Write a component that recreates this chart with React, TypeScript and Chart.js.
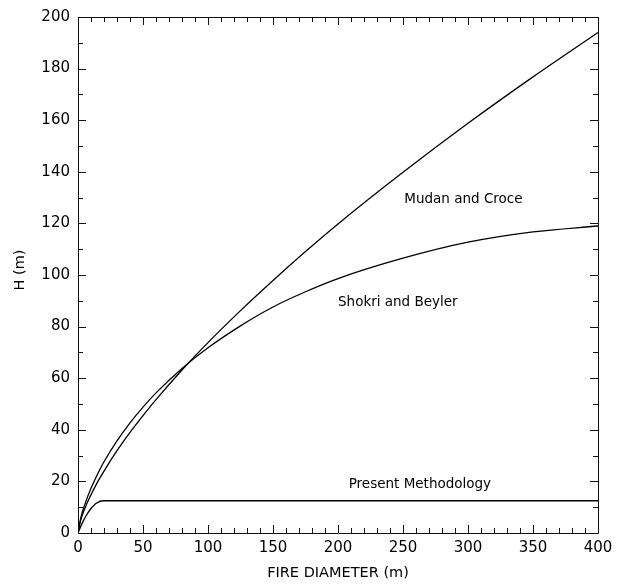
import React, { useEffect, useRef } from "react";
import { Chart, registerables } from "chart.js";

Chart.register(...registerables);

// Fire diameter (m) sample points
const diameters = [0, 2, 5, 10, 15, 20, 30, 40, 50, 60, 80, 100, 125, 150, 175, 200, 250, 300, 350, 400];
// Flame height H (m)
const mudanCroce = [0, 4.8, 9.2, 14.8, 19.7, 24.0, 31.9, 39.0, 45.5, 51.7, 63.2, 73.8, 86.2, 97.9, 109.1, 119.8, 139.8, 158.8, 176.8, 194.0];
const shokriBeyler = [0, 5.6, 10.7, 17.3, 22.8, 27.6, 35.7, 42.7, 48.8, 54.3, 63.8, 71.8, 80.3, 87.6, 93.5, 98.6, 106.5, 112.7, 116.7, 119.0];

const presentDiameters = [0, 2, 4, 6, 8, 10, 12, 14, 16, 18, 20, 25, 50, 100, 200, 300, 400];
const presentMethodology = [0, 2.4, 4.6, 6.5, 8.1, 9.5, 10.6, 11.5, 12.1, 12.4, 12.5, 12.5, 12.5, 12.5, 12.5, 12.5, 12.5];

const curveLabels = ["Mudan and Croce", "Shokri and Beyler", "Present Methodology"];
const xTitle = "FIRE DIAMETER (m)";
const yTitle = "H (m)";

const FONT = "'DejaVu Sans', sans-serif";

const toPoints = (xs: number[], ys: number[]) => xs.map((x, i) => ({ x, y: ys[i] }));

const decorPlugin = {
  id: "decor",
  afterDraw(chart: any) {
    const { ctx, chartArea, scales } = chart;
    const { left, right, top, bottom } = chartArea;
    const xs = scales.x;
    const ys = scales.y;
    ctx.save();
    ctx.strokeStyle = "#111";
    ctx.lineWidth = 1;
    ctx.beginPath();
    ctx.rect(Math.round(left) + 0.5, Math.round(top) + 0.5, Math.round(right - left), Math.round(bottom - top));
    ctx.stroke();
    ctx.beginPath();
    for (let v = 0; v <= 400; v += 10) {
      const len = v % 50 === 0 ? 8 : 5;
      const px = Math.round(xs.getPixelForValue(v)) + 0.5;
      ctx.moveTo(px, bottom);
      ctx.lineTo(px, bottom - len);
      ctx.moveTo(px, top);
      ctx.lineTo(px, top + len);
    }
    for (let v = 0; v <= 200; v += 10) {
      const len = v % 20 === 0 ? 8 : 5;
      const py = Math.round(ys.getPixelForValue(v)) + 0.5;
      ctx.moveTo(left, py);
      ctx.lineTo(left + len, py);
      ctx.moveTo(right, py);
      ctx.lineTo(right - len, py);
    }
    ctx.stroke();

    ctx.fillStyle = "#000";
    ctx.font = `13.5px ${FONT}`;
    ctx.textBaseline = "alphabetic";
    ctx.textAlign = "left";
    ctx.fillText(curveLabels[0], xs.getPixelForValue(251), ys.getPixelForValue(127.8));
    ctx.fillText(curveLabels[1], xs.getPixelForValue(200), ys.getPixelForValue(88));
    ctx.textAlign = "center";
    ctx.fillText(curveLabels[2], xs.getPixelForValue(263), ys.getPixelForValue(17.5));

    ctx.font = `14.5px ${FONT}`;
    ctx.textAlign = "center";
    ctx.textBaseline = "middle";
    ctx.fillText(xTitle, (left + right) / 2, 573);
    ctx.translate(20, 270);
    ctx.rotate(-Math.PI / 2);
    ctx.fillText(yTitle, 0, 0);
    ctx.restore();
  },
};

export default function App() {
  const ref = useRef<HTMLCanvasElement | null>(null);
  useEffect(() => {
    if (!ref.current) return;
    const line = (data: any) => ({
      data,
      borderColor: "#000",
      borderWidth: 1.3,
      pointRadius: 0,
      fill: false,
      cubicInterpolationMode: "monotone" as const,
    });
    const chart = new Chart(ref.current, {
      type: "line",
      data: {
        datasets: [
          { label: curveLabels[0], ...line(toPoints(diameters, mudanCroce)) },
          { label: curveLabels[1], ...line(toPoints(diameters, shokriBeyler)) },
          { label: curveLabels[2], ...line(toPoints(presentDiameters, presentMethodology)) },
        ],
      },
      options: {
        animation: false,
        responsive: false,
        layout: { padding: { left: 0, top: 15, right: 25, bottom: 0 } },
        plugins: { legend: { display: false }, tooltip: { enabled: false } },
        scales: {
          x: {
            type: "linear",
            min: 0,
            max: 400,
            grid: { display: false, drawTicks: false, tickLength: 0 },
            border: { display: false },
            ticks: { stepSize: 50, color: "#000", font: { family: FONT, size: 15 }, padding: 6, maxRotation: 0 },
            afterFit: (s: any) => {
              s.height = 51;
            },
          },
          y: {
            type: "linear",
            min: 0,
            max: 200,
            grid: { display: false, drawTicks: false, tickLength: 0 },
            border: { display: false },
            ticks: { stepSize: 20, color: "#000", font: { family: FONT, size: 15 }, padding: 8 },
            afterFit: (s: any) => {
              s.width = 78;
            },
          },
        },
      },
      plugins: [decorPlugin],
    });
    return () => chart.destroy();
  }, []);
  return (
    <div style={{ position: "absolute", left: 0, top: 0, width: 623, height: 584, background: "#fff" }}>
      <canvas ref={ref} width={623} height={584} style={{ display: "block" }} />
    </div>
  );
}
